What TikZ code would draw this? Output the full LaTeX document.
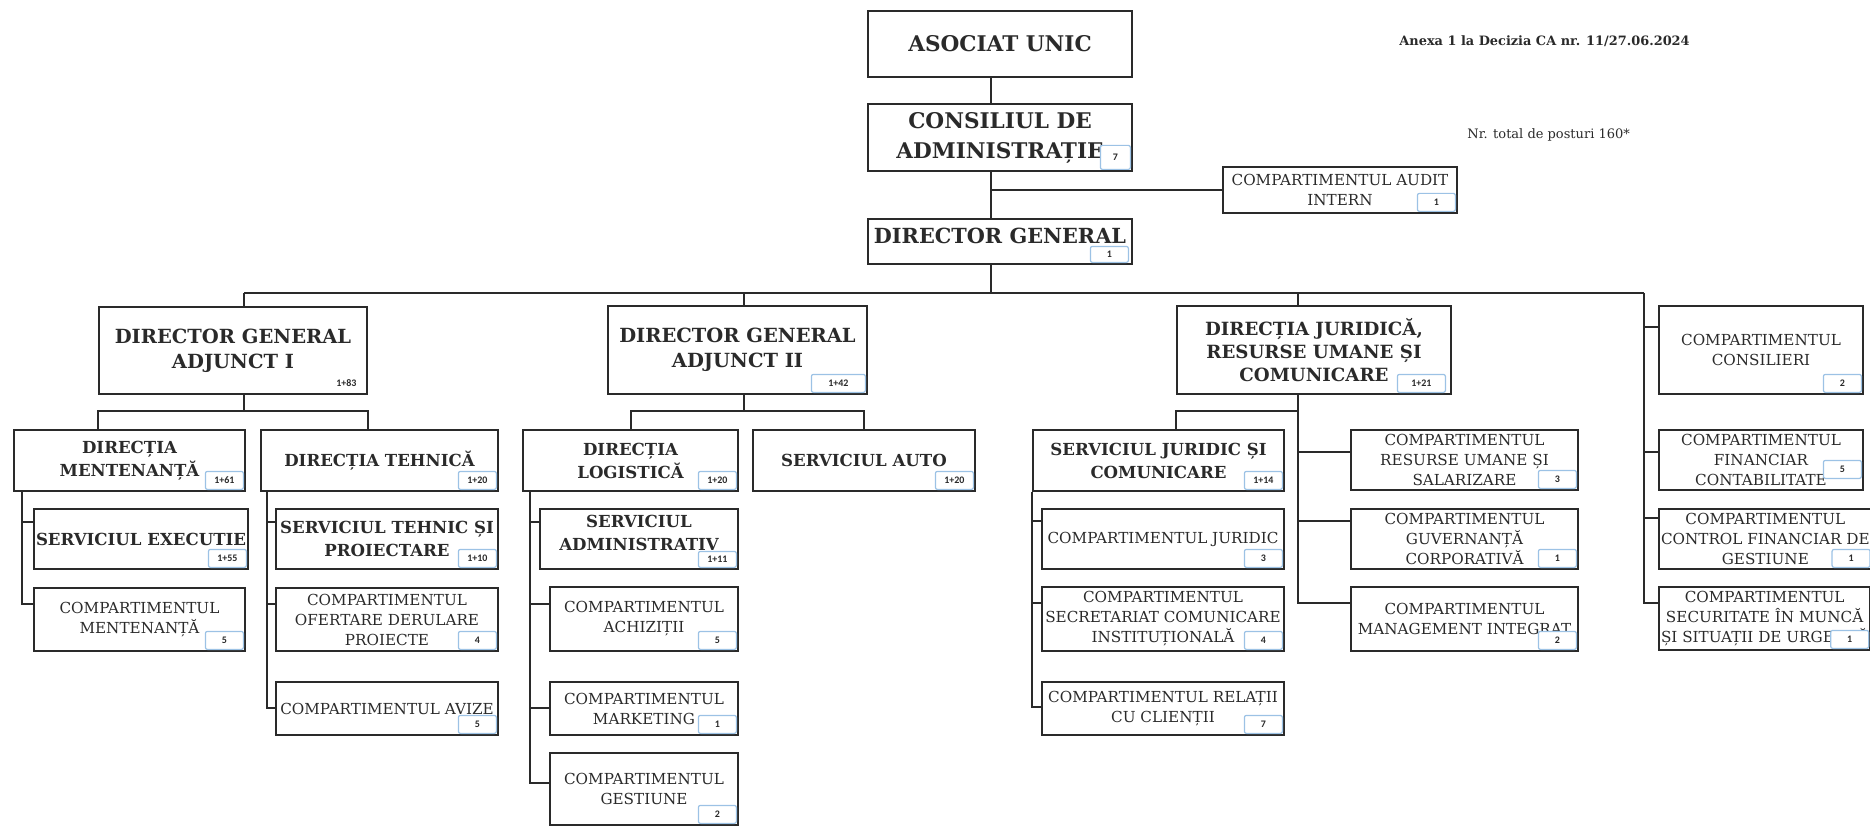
\documentclass[tikz,border=0pt]{standalone}
\usepackage{fontspec}
\setmainfont{DejaVu Serif}
\newfontfamily\nrfont{Carlito}
\usetikzlibrary{positioning}

\definecolor{ink}{HTML}{2A2A2A}
\definecolor{nrblue}{HTML}{9CC2E5}

\begin{document}
\begin{tikzpicture}[x=0.5pt, y=-0.5pt,
	b/.style={draw=ink, line width=1pt, anchor=north west, align=center, inner sep=1pt, text=ink},
	wh/.style 2 args={minimum width=#1*0.5pt, minimum height=#2*0.5pt},
	t1/.style={font=\fontsize{10.8}{15}\selectfont\bfseries},
	t2/.style={font=\fontsize{9.75}{12.5}\selectfont\bfseries},
	t3/.style={font=\fontsize{8.3}{11.5}\selectfont\bfseries},
	t4/.style={font=\fontsize{7.6}{10}\selectfont},
	nr/.style={draw=nrblue, fill=white, rounded corners=1pt, line width=0.6pt, minimum width=19pt, minimum height=9pt, inner sep=0pt, text=ink, font=\fontsize{5}{5}\nrfont\bfseries},
	ln/.style={draw=ink, line width=1pt}]
	\useasboundingbox (0,0) rectangle (1870,829);

	% conducere
	\node[b, t1, wh={264}{66}] (au) at (867,10) {ASOCIAT UNIC};
	\node[b, t1, wh={264}{67}] (ca) at (867,103) {CONSILIUL DE\\ADMINISTRAȚIE};
	\node[b, t4, wh={234}{46}] (ai) at (1222,166) {COMPARTIMENTUL AUDIT\\INTERN};
	\node[b, t1, wh={264}{45}, text depth=6pt, font=\fontsize{10.4}{12}\selectfont\bfseries] (dg) at (867,218) {DIRECTOR GENERAL};

	\node[anchor=west, inner sep=0pt, text=ink, font=\fontsize{6.45}{7}\selectfont\bfseries] (anexa) at (1399,41) {Anexa 1 la Decizia CA nr. 11/27.06.2024};
	\node[anchor=west, inner sep=0pt, text=ink, font=\fontsize{6.5}{7}\selectfont] (total) at (1467,135) {Nr. total de posturi 160*};

	% nivel 1
	\node[b, t2, wh={268}{87}] (dga1) at (98,306) {DIRECTOR GENERAL\\ADJUNCT I};
	\node[b, t2, wh={259}{88}] (dga2) at (607,305) {DIRECTOR GENERAL\\ADJUNCT II};
	\node[b, t2, wh={274}{88}, font=\fontsize{9.1}{11.4}\selectfont\bfseries] (dj) at (1176,305) {DIRECȚIA JURIDICĂ,\\RESURSE UMANE ȘI\\COMUNICARE};
	\node[b, t4, wh={204}{88}] (cons) at (1658,305) {COMPARTIMENTUL\\CONSILIERI};

	% nivel 2
	\node[b, t3, wh={231}{61}] (dm) at (13,429) {DIRECȚIA\\MENTENANȚĂ};
	\node[b, t3, wh={237}{61}] (dt) at (260,429) {DIRECȚIA TEHNICĂ};
	\node[b, t3, wh={215}{61}] (dl) at (522,429) {DIRECȚIA\\LOGISTICĂ};
	\node[b, t3, wh={222}{61}] (sa) at (752,429) {SERVICIUL AUTO};
	\node[b, t3, wh={251}{61}] (sj) at (1032,429) {SERVICIUL JURIDIC ȘI\\COMUNICARE};
	\node[b, t4, wh={227}{60}] (ru) at (1350,429) {COMPARTIMENTUL\\RESURSE UMANE ȘI\\SALARIZARE};
	\node[b, t4, wh={204}{60}] (fc) at (1658,429) {COMPARTIMENTUL\\FINANCIAR\\CONTABILITATE};

	% nivel 3
	\node[b, t3, wh={211}{60}] (se) at (33,508) {SERVICIUL EXECUTIE};
	\node[b, t3, wh={222}{60}] (stp) at (275,508) {SERVICIUL TEHNIC ȘI\\PROIECTARE};
	\node[b, t3, wh={198}{60}, text depth=6pt] (sadm) at (539,508) {SERVICIUL\\ADMINISTRATIV};
	\node[b, t4, wh={242}{60}] (cj) at (1041,508) {COMPARTIMENTUL JURIDIC};
	\node[b, t4, wh={227}{60}] (gc) at (1350,508) {COMPARTIMENTUL\\GUVERNANȚĂ\\CORPORATIVĂ};
	\node[b, t4, wh={204}{60}] (cfg) at (1658,508) {COMPARTIMENTUL\\CONTROL FINANCIAR DE\\GESTIUNE};

	% nivel 4
	\node[b, t4, wh={211}{63}] (cm) at (33,587) {COMPARTIMENTUL\\MENTENANȚĂ};
	\node[b, t4, wh={222}{63}] (co) at (275,587) {COMPARTIMENTUL\\OFERTARE DERULARE\\PROIECTE};
	\node[b, t4, wh={188}{64}] (ach) at (549,586) {COMPARTIMENTUL\\ACHIZIȚII};
	\node[b, t4, wh={242}{64}] (scs) at (1041,586) {COMPARTIMENTUL\\SECRETARIAT COMUNICARE\\INSTITUȚIONALĂ};
	\node[b, t4, wh={227}{64}] (mi) at (1350,586) {COMPARTIMENTUL\\MANAGEMENT INTEGRAT};
	\node[b, t4, wh={204}{63}] (ssm) at (1658,586) {COMPARTIMENTUL\\SECURITATE ÎN MUNCĂ\\ȘI SITUAȚII DE URGENȚĂ};

	% nivel 5
	\node[b, t4, wh={222}{53}] (av) at (275,681) {COMPARTIMENTUL AVIZE};
	\node[b, t4, wh={188}{53}] (mk) at (549,681) {COMPARTIMENTUL\\MARKETING};
	\node[b, t4, wh={242}{53}] (rc) at (1041,681) {COMPARTIMENTUL RELAȚII\\CU CLIENȚII};
	\node[b, t4, wh={188}{72}] (ge) at (549,752) {COMPARTIMENTUL\\GESTIUNE};

	% posturi
	\node[nr, minimum width=15pt, minimum height=12pt, above left=1pt and 1pt of ca.south east] (nca) {7};
	\node[nr, above left=1pt and 1pt of ai.south east] (nai) {1};
	\node[nr, minimum height=8pt, above left=1pt and 2pt of dg.south east] (ndg) {1};
	\node[nr, draw=none, above left=1pt and 1pt of dga1.south east] (ndga1) {1+83};
	\node[nr, minimum width=27pt, above left=1pt and 1pt of dga2.south east] (ndga2) {1+42};
	\node[nr, minimum width=24pt, above left=1pt and 3pt of dj.south east] (ndj) {1+21};
	\node[nr, above left=1pt and 1pt of cons.south east] (ncons) {2};
	\node[nr, above left=1pt and 1pt of dm.south east] (ndm) {1+61};
	\node[nr, above left=1pt and 1pt of dt.south east] (ndt) {1+20};
	\node[nr, above left=1pt and 1pt of dl.south east] (ndl) {1+20};
	\node[nr, above left=1pt and 1pt of sa.south east] (nsa) {1+20};
	\node[nr, above left=1pt and 1pt of sj.south east] (nsj) {1+14};
	\node[nr, above left=1pt and 1pt of ru.south east] (nru) {3};
	\node[nr, above left=6pt and 1pt of fc.south east] (nfc) {5};
	\node[nr, above left=1pt and 1pt of se.south east] (nse) {1+55};
	\node[nr, above left=1pt and 1pt of stp.south east] (nstp) {1+10};
	\node[nr, minimum height=8pt, above left=1pt and 1pt of sadm.south east] (nsadm) {1+11};
	\node[nr, above left=1pt and 1pt of cj.south east] (ncj) {3};
	\node[nr, above left=1pt and 1pt of gc.south east] (ngc) {1};
	\node[nr, above left=1pt and 1pt of cfg.south east] (ncfg) {1};
	\node[nr, above left=1pt and 1pt of cm.south east] (ncm) {5};
	\node[nr, above left=1pt and 1pt of co.south east] (nco) {4};
	\node[nr, above left=1pt and 1pt of ach.south east] (nach) {5};
	\node[nr, above left=1pt and 1pt of scs.south east] (nscs) {4};
	\node[nr, above left=1pt and 1pt of mi.south east] (nmi) {2};
	\node[nr, above left=1pt and 1pt of ssm.south east] (nssm) {1};
	\node[nr, above left=1pt and 1pt of av.south east] (nav) {5};
	\node[nr, above left=1pt and 1pt of mk.south east] (nmk) {1};
	\node[nr, above left=1pt and 1pt of rc.south east] (nrc) {7};
	\node[nr, above left=1pt and 1pt of ge.south east] (nge) {2};

	% legaturi
	\coordinate (sp) at (991,0);
	\coordinate (k1) at (244,293);
	\coordinate (k2) at (744,293);
	\coordinate (k3) at (1298,293);
	\coordinate (k4) at (1644,293);
	\coordinate (h1) at (0,411);
	\coordinate (v1) at (21.5,0);
	\coordinate (v2) at (267,0);
	\coordinate (v3) at (530,0);

	\draw[ln] (au.south -| sp) -- (ca.north -| sp);
	\draw[ln] (ca.south -| sp) -- (dg.north -| sp);
	\draw[ln] (ai.west) -- (ai.west -| sp);
	\draw[ln] (dg.south -| sp) -- (k1 -| sp);
	\draw[ln] (k1) -- (k4);
	\draw[ln] (k1) -- (k1 |- dga1.north);
	\draw[ln] (k2) -- (k2 |- dga2.north);
	\draw[ln] (k3) -- (k3 |- dj.north);

	\draw[ln] (k4) |- ([yshift=-11pt]cons.north west);
	\draw[ln] (k4) |- ([yshift=-11.5pt]fc.north west);
	\draw[ln] (k4) |- ([yshift=-5pt]cfg.north west);
	\draw[ln] (k4) |- ([yshift=-8.5pt]ssm.north west);

	\draw[ln] (dga1.south -| k1) -- (k1 |- h1);
	\draw[ln] (dm.north -| dga1.west) |- (k1 |- h1) -| (dt.north -| dga1.east);
	\draw[ln] (dga2.south -| k2) -- (k2 |- h1);
	\draw[ln] (dl.north) |- (k2 |- h1) -| (sa.north);
	\draw[ln] (sj.north -| dj.west) |- (k3 |- h1);
	\draw[ln] (dj.south -| k3) |- ([yshift=-8.5pt]mi.north west);
	\draw[ln] (dj.south -| k3) |- ([yshift=-11.5pt]ru.north west);
	\draw[ln] (dj.south -| k3) |- ([yshift=-6.5pt]gc.north west);

	\draw[ln] (dm.south -| v1) |- ([yshift=-7pt]se.north west);
	\draw[ln] (dm.south -| v1) |- ([yshift=-8.5pt]cm.north west);
	\draw[ln] (dt.south -| v2) |- ([yshift=-7pt]stp.north west);
	\draw[ln] (dt.south -| v2) |- ([yshift=-8.5pt]co.north west);
	\draw[ln] (dt.south -| v2) |- ([yshift=-13.5pt]av.north west);
	\draw[ln] (dl.south -| v3) |- ([yshift=-7pt]sadm.north west);
	\draw[ln] (dl.south -| v3) |- ([yshift=-9pt]ach.north west);
	\draw[ln] (dl.south -| v3) |- ([yshift=-13.5pt]mk.north west);
	\draw[ln] (dl.south -| v3) |- ([yshift=-15.5pt]ge.north west);
	\draw[ln] (sj.south west) |- ([yshift=-6.5pt]cj.north west);
	\draw[ln] (sj.south west) |- ([yshift=-8.5pt]scs.north west);
	\draw[ln] (sj.south west) |- ([yshift=-13pt]rc.north west);
\end{tikzpicture}
\end{document}
